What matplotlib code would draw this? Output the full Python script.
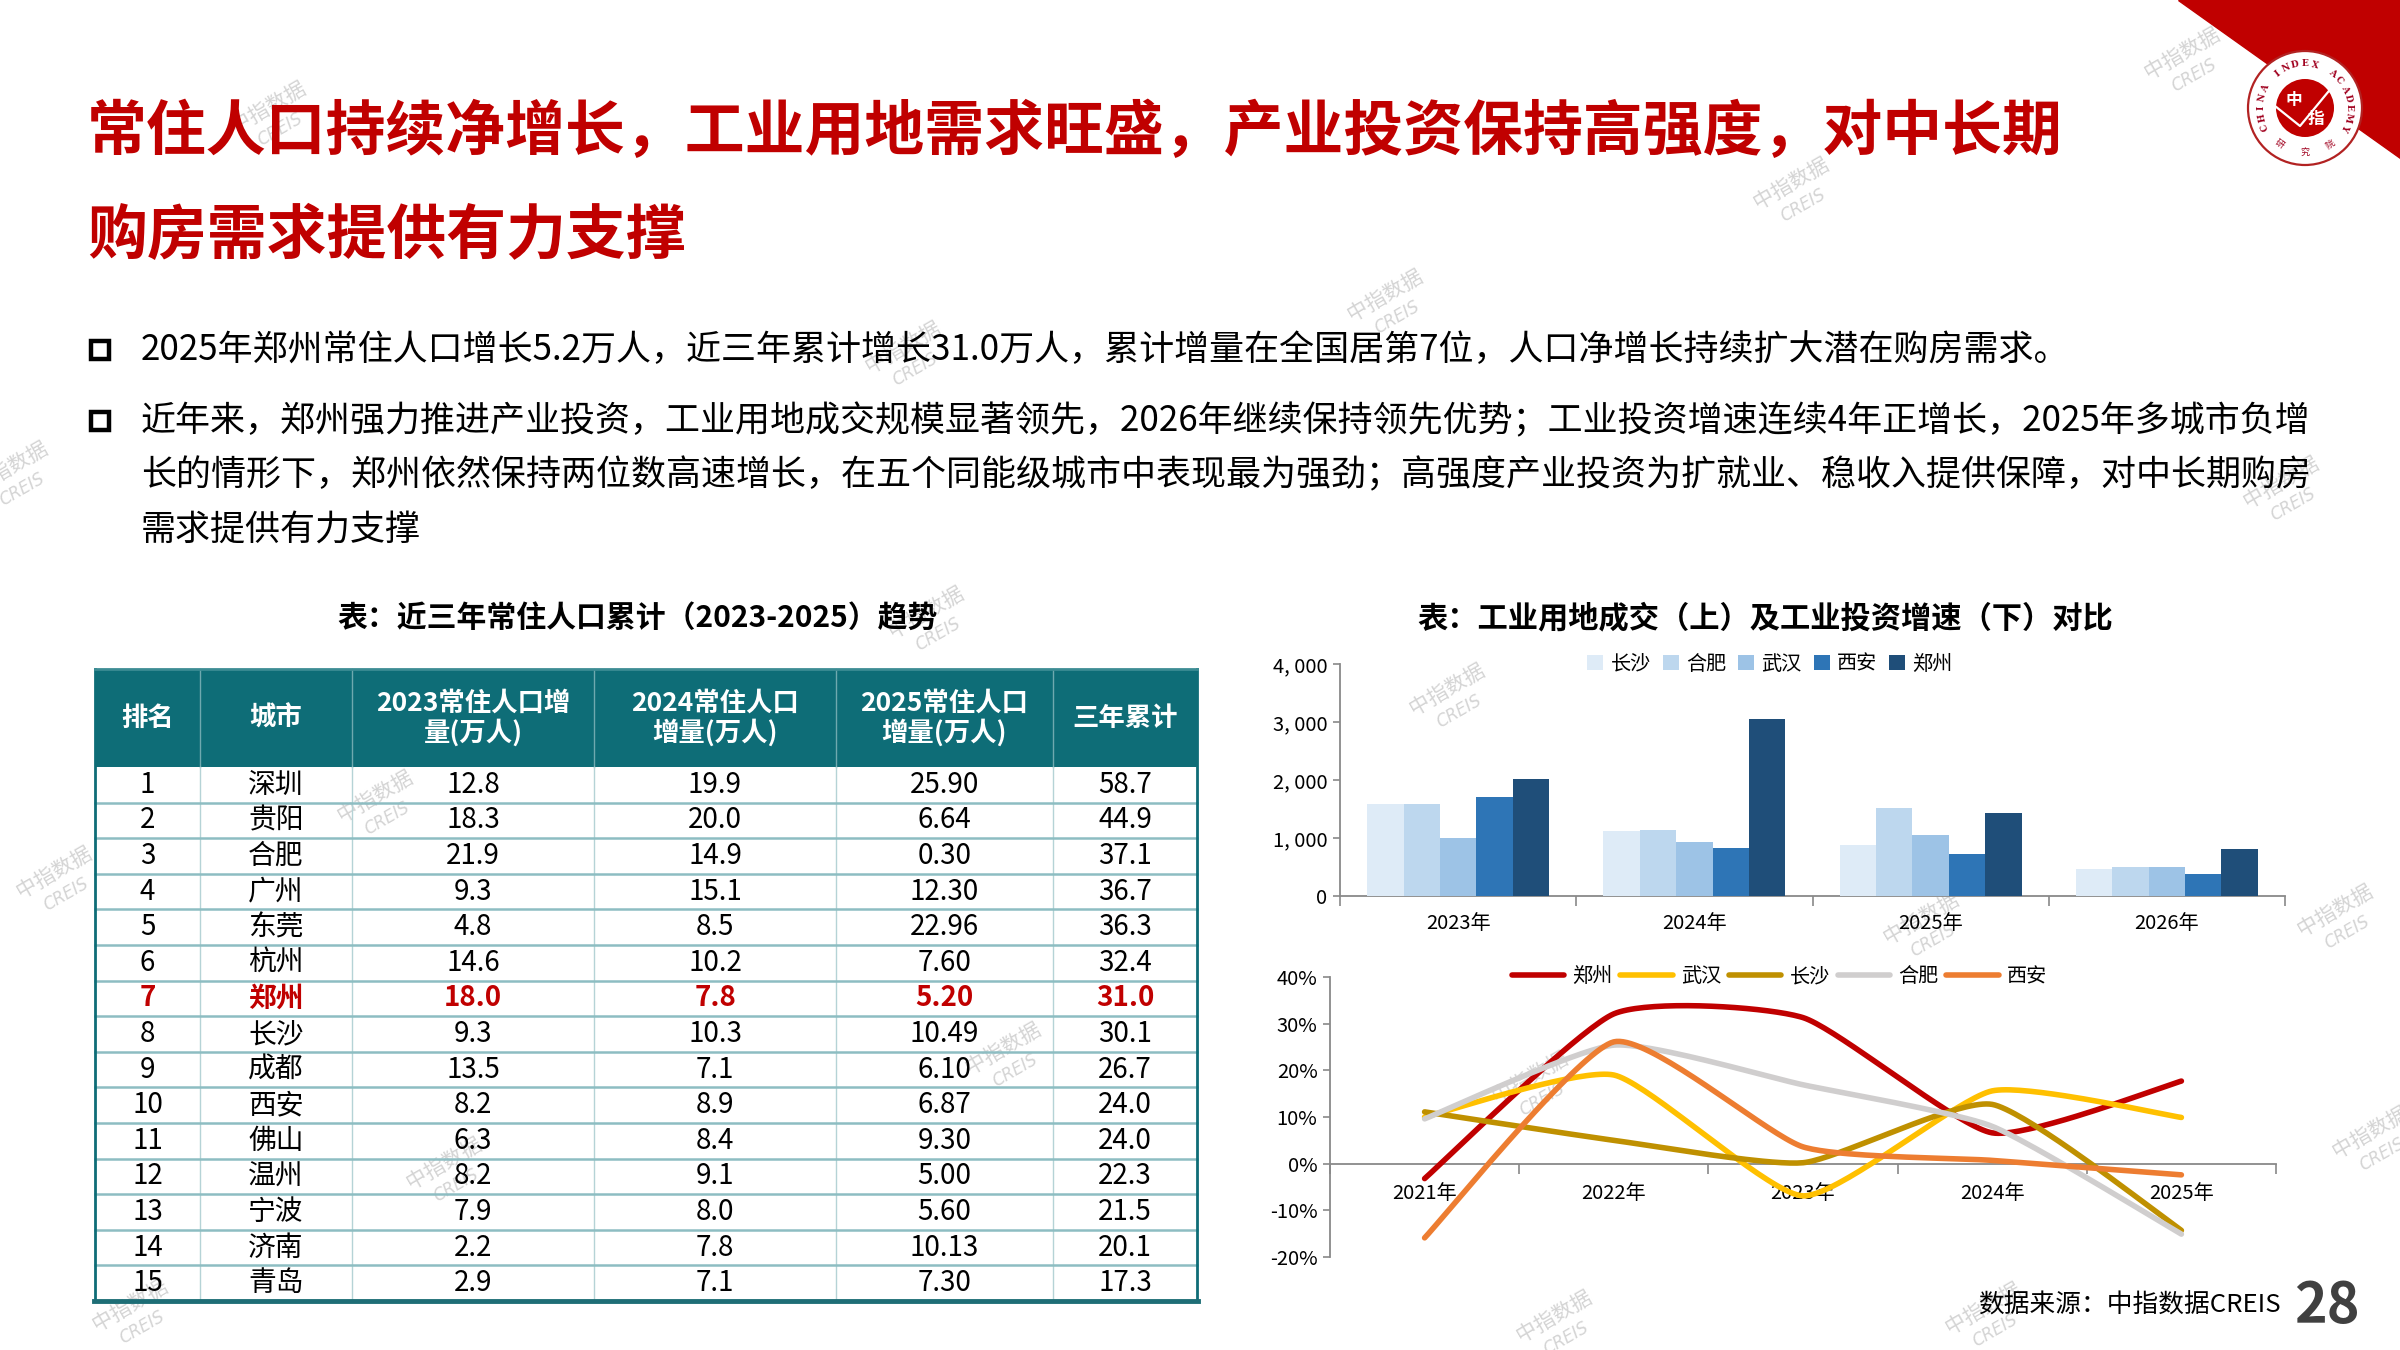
import numpy as np
import matplotlib
matplotlib.use("Agg")
import matplotlib.pyplot as plt
from matplotlib.patches import Rectangle, Polygon, Circle
from matplotlib.ticker import FixedLocator, FuncFormatter

CJK = ["Noto Sans CJK SC", "DejaVu Sans"]
NARROW = ["Liberation Sans Narrow", "Noto Sans CJK SC", "DejaVu Sans"]
plt.rcParams["font.family"] = CJK

# ---- texts ----
TITLE = ["常住人口持续净增长，工业用地需求旺盛，产业投资保持高强度，对中长期", "购房需求提供有力支撑"]
BULLET1 = ["2025年郑州常住人口增长5.2万人，近三年累计增长31.0万人，累计增量在全国居第7位，人口净增长持续扩大潜在购房需求。"]
BULLET2 = ["近年来，郑州强力推进产业投资，工业用地成交规模显著领先，2026年继续保持领先优势；工业投资增速连续4年正增长，2025年多城市负增",
           "长的情形下，郑州依然保持两位数高速增长，在五个同能级城市中表现最为强劲；高强度产业投资为扩就业、稳收入提供保障，对中长期购房",
           "需求提供有力支撑"]
TABLE_TITLE = "表：近三年常住人口累计（2023-2025）趋势"
CHART_TITLE = "表：工业用地成交（上）及工业投资增速（下）对比"
SOURCE = "数据来源：中指数据CREIS"
PAGE = "28"

# ---- table data ----
HEADERS = ["排名", "城市", "2023常住人口增\n量(万人)", "2024常住人口\n增量(万人)", "2025常住人口\n增量(万人)", "三年累计"]
RANK = [1, 2, 3, 4, 5, 6, 7, 8, 9, 10, 11, 12, 13, 14, 15]
CITY = ["深圳", "贵阳", "合肥", "广州", "东莞", "杭州", "郑州", "长沙", "成都", "西安", "佛山", "温州", "宁波", "济南", "青岛"]
POP23 = [12.8, 18.3, 21.9, 9.3, 4.8, 14.6, 18.0, 9.3, 13.5, 8.2, 6.3, 8.2, 7.9, 2.2, 2.9]
POP24 = [19.9, 20.0, 14.9, 15.1, 8.5, 10.2, 7.8, 10.3, 7.1, 8.9, 8.4, 9.1, 8.0, 7.8, 7.1]
POP25 = [25.90, 6.64, 0.30, 12.30, 22.96, 7.60, 5.20, 10.49, 6.10, 6.87, 9.30, 5.00, 5.60, 10.13, 7.30]
TOTAL = [58.7, 44.9, 37.1, 36.7, 36.3, 32.4, 31.0, 30.1, 26.7, 24.0, 24.0, 22.3, 21.5, 20.1, 17.3]
HIGHLIGHT = "郑州"

# ---- industrial land (bars) ----
LAND_YEARS = ["2023年", "2024年", "2025年", "2026年"]
LAND_CITIES = ["长沙", "合肥", "武汉", "西安", "郑州"]
LAND_CS = [1590, 1115, 875, 470]
LAND_HF = [1590, 1140, 1525, 495]
LAND_WH = [1000, 935, 1055, 495]
LAND_XA = [1715, 820, 720, 380]
LAND_ZZ = [2015, 3055, 1435, 805]
LAND_COLORS = ["#DEEBF7", "#BDD7EE", "#9DC3E6", "#2E75B6", "#1F4E79"]

# ---- industrial investment growth (lines, %) ----
INV_YEARS = ["2021年", "2022年", "2023年", "2024年", "2025年"]
INV_CITIES = ["郑州", "武汉", "长沙", "合肥", "西安"]
INV_ZZ = [-3.2, 32.1, 31.3, 6.6, 17.7]
INV_WH = [10.0, 19.0, -6.9, 15.6, 9.9]
INV_CS = [11.1, 5.0, 0.2, 12.7, -14.3]
INV_HF = [9.6, 25.4, 16.9, 8.0, -15.1]
INV_XA = [-15.9, 26.1, 3.6, 0.7, -2.4]
INV_COLORS = ["#C00000", "#FFC000", "#BF9000", "#D0CECE", "#ED7D31"]

RED = "#C00000"
TEAL = "#0E6D77"


def smooth(xs, ys, t=0.55, n=40):
    # Excel-like smoothed line: cubic Bezier through the points
    P = np.column_stack([xs, ys]).astype(float)
    ext = np.vstack([P[0], P, P[-1]])
    segs = []
    s = np.linspace(0, 1, n)[:, None]
    for i in range(len(P) - 1):
        p0, p1, p2, p3 = ext[i], ext[i + 1], ext[i + 2], ext[i + 3]
        c1 = p1 + t * (p2 - p0) / 6
        c2 = p2 - t * (p3 - p1) / 6
        seg = (1 - s) ** 3 * p1 + 3 * (1 - s) ** 2 * s * c1 + 3 * (1 - s) * s ** 2 * c2 + s ** 3 * p2
        segs.append(seg if i == 0 else seg[1:])
    return np.vstack(segs)


fig = plt.figure(figsize=(24, 13.5), dpi=100)
bg = fig.add_axes([0, 0, 1, 1], zorder=0)
bg.set_xlim(0, 2400); bg.set_ylim(1350, 0); bg.axis("off")

# ---- watermarks ----
WM = [(268, 115), (1385, 303), (1791, 191), (2182, 61), (903, 355), (10, 475), (375, 804), (54, 880),
      (1447, 697), (1003, 1056), (444, 1171), (1921, 926), (2335, 918), (2370, 1140), (1554, 1324),
      (130, 1313), (1983, 1316), (926, 620), (2281, 490), (1530, 1085)]
for wx, wy in WM:
    bg.text(wx, wy - 8, "中指数据", fontsize=15, color="#D4D4D4", rotation=30, ha="center", va="center", zorder=1)
    bg.text(wx + 12, wy + 14, "CREIS", fontsize=12, color="#D4D4D4", rotation=30, style="italic",
            ha="center", va="center", family="DejaVu Sans", zorder=1)

# ---- corner + logo ----
bg.add_patch(Polygon([(2178, 0), (2400, 0), (2400, 158)], closed=True, color=RED, zorder=2))
cx, cy = 2305, 108
bg.add_patch(Circle((cx, cy), 57, facecolor="white", edgecolor="#B22222", lw=1.6, zorder=3))
bg.add_patch(Circle((cx, cy), 29, facecolor=RED, edgecolor="none", zorder=4))
bg.plot([cx - 30, cx - 5, cx + 28], [cy - 2, cy + 18, cy - 22], color="white", lw=1.6, zorder=5)
bg.text(cx - 11, cy - 8, "中", color="white", fontsize=12, fontweight="bold", ha="center", va="center", zorder=6)
bg.text(cx + 11, cy + 11, "指", color="white", fontsize=12, fontweight="bold", ha="center", va="center", zorder=6)
ring = "CHINA INDEX ACADEMY"
for k, ch in enumerate(ring):
    a = np.deg2rad(205 - k * 230 / (len(ring) - 1))
    bg.text(cx + 44 * np.cos(a), cy - 44 * np.sin(a), ch, fontsize=6.5, color="#A0001E", family="DejaVu Serif",
            fontweight="bold", rotation=np.rad2deg(a) - 90, ha="center", va="center", zorder=6)
for k, ch in enumerate("研究院"):
    a = np.deg2rad(235 + k * 35)
    bg.text(cx + 44 * np.cos(a), cy - 44 * np.sin(a), ch, fontsize=6.5, color="#A0001E",
            rotation=np.rad2deg(a) + 90, ha="center", va="center", zorder=6)

# ---- title ----
for i, line in enumerate(TITLE):
    bg.text(87, 133 + i * 104, line, fontsize=43.1, fontweight="heavy", color=RED, ha="left", va="center", zorder=5)

# ---- bullets ----
bullet_rows = [(BULLET1, 350), (BULLET2, 421)]
for lines, y0 in bullet_rows:
    bg.add_patch(Rectangle((91, y0 - 9), 18, 18, facecolor="white", edgecolor="black", lw=3.2, zorder=5))
    for j, line in enumerate(lines):
        bg.text(141, y0 + j * 54.5, line, fontsize=25.2, color="black", ha="left", va="center", zorder=5)

# ---- table ----
bg.text(638, 618, TABLE_TITLE, fontsize=21.5, fontweight="bold", ha="center", va="center", zorder=5)
XE = [95, 200, 352, 594, 836, 1053, 1197]
HT, HB, TB = 669, 767, 1301
rh = (TB - HB) / len(RANK)
bg.add_patch(Rectangle((XE[0], HT), XE[-1] - XE[0], HB - HT, facecolor=TEAL, edgecolor="none", zorder=3))
for x in XE[1:-1]:
    bg.plot([x, x], [HT, HB], color="#6FA9AF", lw=1.0, zorder=4)
    bg.plot([x, x], [HB, TB], color="#B5D3D6", lw=1.0, zorder=4)
for i in range(1, len(RANK)):
    bg.plot([XE[0], XE[-1]], [HB + i * rh] * 2, color="#8DBDC2", lw=1.8, zorder=4)
bg.plot([XE[0], XE[0]], [HT, TB], color=TEAL, lw=2.0, zorder=4)
bg.plot([XE[-1], XE[-1]], [HT, TB], color=TEAL, lw=2.0, zorder=4)
bg.plot([XE[0], XE[-1]], [HT, HT], color="#3C8C94", lw=2.0, zorder=4)
bg.plot([XE[0] - 1, XE[-1] + 1], [TB, TB], color="#1E6E76", lw=3.5, zorder=4)
centers = [(XE[i] + XE[i + 1]) / 2 for i in range(len(XE) - 1)]
for c, h in zip(centers, HEADERS):
    bg.text(c, (HT + HB) / 2, h, fontsize=19, fontweight="bold", color="white", ha="center", va="center",
            linespacing=1.1, zorder=5)
for i in range(len(RANK)):
    y = HB + (i + 0.5) * rh
    hl = CITY[i] == HIGHLIGHT
    col = RED if hl else "black"
    fw = "bold" if hl else "normal"
    cells = [str(RANK[i]), CITY[i], f"{POP23[i]:.1f}", f"{POP24[i]:.1f}", f"{POP25[i]:.2f}", f"{TOTAL[i]:.1f}"]
    for c, v in zip(centers, cells):
        bg.text(c, y, v, fontsize=20, color=col, fontweight=fw, family=NARROW, ha="center", va="center", zorder=5)

# ---- right charts ----
bg.text(1765, 618, CHART_TITLE, fontsize=21.8, fontweight="bold", ha="center", va="center", zorder=5)
AX_GRAY = "#898989"

# bar chart
axb = fig.add_axes([1340 / 2400, 1 - 896 / 1350, 945 / 2400, 232 / 1350], zorder=2)
axb.patch.set_alpha(0)
land = [LAND_CS, LAND_HF, LAND_WH, LAND_XA, LAND_ZZ]
xb = np.arange(len(LAND_YEARS))
w = 0.154
for k, (vals, name, col) in enumerate(zip(land, LAND_CITIES, LAND_COLORS)):
    axb.bar(xb + (k - 2) * w, vals, width=w, color=col, label=name, zorder=3)
axb.set_xlim(-0.5, len(LAND_YEARS) - 0.5)
axb.set_ylim(0, 4000)
axb.set_yticks([0, 1000, 2000, 3000, 4000])
axb.yaxis.set_major_formatter(FuncFormatter(lambda v, p: f"{int(v):,}".replace(",", ", ")))
axb.set_xticks(xb)
axb.set_xticklabels(LAND_YEARS)
axb.xaxis.set_minor_locator(FixedLocator(np.arange(-0.5, len(LAND_YEARS), 1.0)))
axb.tick_params(axis="x", which="major", length=0, pad=12, labelsize=14.5)
axb.tick_params(axis="x", which="minor", length=7, color=AX_GRAY, width=1.2)
axb.tick_params(axis="y", length=5, color=AX_GRAY, width=1.2, labelsize=14.5, pad=4)
for sp in ("top", "right"):
    axb.spines[sp].set_visible(False)
for sp in ("left", "bottom"):
    axb.spines[sp].set_color(AX_GRAY); axb.spines[sp].set_linewidth(1.3)
axb.legend(loc="center", bbox_to_anchor=(0.455, 1.0), ncol=5, frameon=False, fontsize=14.5, handlelength=0.8,
           handleheight=0.8, handletextpad=0.35, columnspacing=0.6, borderaxespad=0)

# line chart
axl = fig.add_axes([1330 / 2400, 1 - 1257 / 1350, 946 / 2400, 280 / 1350], zorder=2)
axl.patch.set_alpha(0)
inv = [INV_ZZ, INV_WH, INV_CS, INV_HF, INV_XA]
xl = np.arange(len(INV_YEARS))
for vals, name, col in zip(inv, INV_CITIES, INV_COLORS):
    sm = smooth(xl, vals)
    axl.plot(sm[:, 0], sm[:, 1], color=col, lw=4.0, solid_capstyle="round", label=name, zorder=3)
axl.set_xlim(-0.5, len(INV_YEARS) - 0.5)
axl.set_ylim(-20, 40)
axl.set_yticks(np.arange(-20, 41, 10))
axl.yaxis.set_major_formatter(FuncFormatter(lambda v, p: f"{int(v)}%"))
axl.spines["bottom"].set_position(("data", 0))
axl.set_xticks(xl)
axl.set_xticklabels(INV_YEARS)
axl.xaxis.set_minor_locator(FixedLocator(np.arange(-0.5, len(INV_YEARS), 1.0)))
axl.tick_params(axis="x", which="major", length=0, pad=14, labelsize=14.5)
axl.tick_params(axis="x", which="minor", length=7, color=AX_GRAY, width=1.2)
axl.tick_params(axis="y", length=5, color=AX_GRAY, width=1.2, labelsize=14.5, pad=4)
for sp in ("top", "right"):
    axl.spines[sp].set_visible(False)
for sp in ("left", "bottom"):
    axl.spines[sp].set_color(AX_GRAY); axl.spines[sp].set_linewidth(1.3)
axl.legend(loc="center", bbox_to_anchor=(0.475, 1.0), ncol=5, frameon=False, fontsize=14.5, handlelength=2.6,
           handletextpad=0.4, columnspacing=0.4, borderaxespad=0)

# ---- footer ----
bg.text(2281, 1306, SOURCE, fontsize=18.5, ha="right", va="center", zorder=5)
bg.text(2327, 1306, PAGE, fontsize=40, fontweight="heavy", color="#404040", ha="center", va="center", zorder=5)

fig.savefig("out.png", dpi=100)
